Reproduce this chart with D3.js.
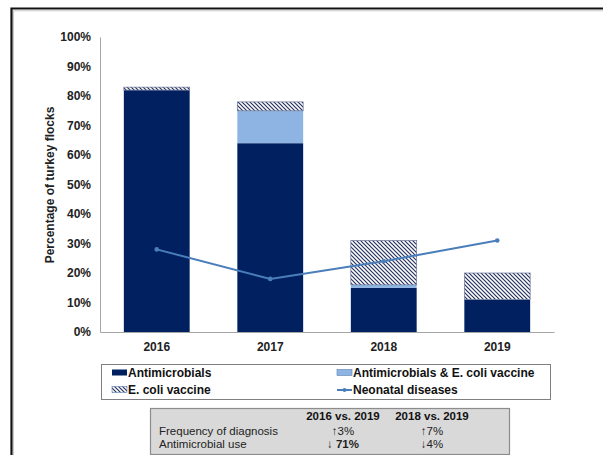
<!DOCTYPE html>
<html>
<head>
<meta charset="utf-8">
<script src="https://cdn.jsdelivr.net/npm/d3@7/dist/d3.min.js"></script>
<style>
  html, body { margin: 0; padding: 0; background: #fff; }
  svg { display: block; font-family: Arial, "Liberation Sans", sans-serif; }
</style>
</head>
<body>
<svg id="chart" width="603" height="455"></svg>
<script>
// Survey years
const years = ["2016", "2017", "2018", "2019"];
// Stacked shares of flocks (%)
const antimicrobials = [82, 64, 15, 11];
const antimicrobialsVaccine = [0, 11, 1, 0];
const ecoliVaccine = [1, 3, 15, 9];
// Neonatal disease diagnoses (%)
const neonatal = [28, 18, 24, 31];
// Y tick values (%)
const yTicks = [0, 10, 20, 30, 40, 50, 60, 70, 80, 90, 100];
// Summary table
const tableHeaders = ["2016 vs. 2019", "2018 vs. 2019"];
const tableRows = [
  { label: "Frequency of diagnosis", arrow: "\u2191", values: ["3%", "7%"], bold: [false, false] },
  { label: "Antimicrobial use", arrow: "\u2193", values: ["71%", "4%"], bold: [true, false] }
];

const navy = "#002060", lightBlue = "#8db4e2", lineBlue = "#4a7ebb";
const svg = d3.select("#chart");

// Hatch pattern for the vaccine-only segment
const defs = svg.append("defs");
const pat = defs.append("pattern")
  .attr("id", "hatch").attr("patternUnits", "userSpaceOnUse")
  .attr("width", 4).attr("height", 4);
pat.append("rect").attr("width", 4).attr("height", 4).attr("fill", "#fff");
pat.append("path").attr("d", "M-1,-1 L5,5 M-1,3 L1,5 M3,-1 L5,1")
  .attr("stroke", "#26315f").attr("stroke-width", 1.2);

// Outer frame
svg.append("path").attr("d", "M11.5,455 L11.5,8.5 L603,8.5")
  .attr("fill", "none").attr("stroke", "#111").attr("stroke-width", 2.2);
svg.append("path").attr("d", "M13.5,455 L13.5,10.8 L603,10.8")
  .attr("fill", "none").attr("stroke", "#bbb").attr("stroke-width", 0.8);

const x = d3.scaleBand().domain(years).range([100, 554])
  .paddingInner(0.42).paddingOuter(0.21);
const y = d3.scaleLinear().domain([0, 100]).range([332, 37]);

// Axes
const yAxis = svg.append("g").attr("transform", "translate(100,0)")
  .call(d3.axisLeft(y).tickValues(yTicks).tickFormat(d => d + "%").tickSize(0).tickPadding(9));
yAxis.select(".domain").attr("stroke", "#a6a6a6");
yAxis.selectAll("text").attr("font-size", 12).attr("font-weight", "bold")
  .attr("fill", "#222").attr("font-family", "Arial, 'Liberation Sans', sans-serif");

// Stack the three segments
const data = years.map((yr, i) => ({
  year: yr, a: antimicrobials[i], av: antimicrobialsVaccine[i], v: ecoliVaccine[i]
}));
const stack = d3.stack().keys(["a", "av", "v"])(data);
const fills = { a: navy, av: lightBlue, v: "url(#hatch)" };

svg.append("g").selectAll("g").data(stack).join("g")
  .attr("fill", d => fills[d.key])
  .selectAll("rect").data(d => d.map(s => ({ s, key: d.key })))
  .join("rect")
  .attr("x", d => x(d.s.data.year))
  .attr("width", x.bandwidth())
  .attr("y", d => y(d.s[1]))
  .attr("height", d => y(d.s[0]) - y(d.s[1]))
  .attr("stroke", d => d.key === "v" ? "#6b7598" : "none")
  .attr("stroke-width", 0.7);

const xAxis = svg.append("g").attr("transform", "translate(0,332)")
  .call(d3.axisBottom(x).tickSize(0).tickPadding(10));
xAxis.select(".domain").attr("stroke", "#a6a6a6");
xAxis.selectAll("text").attr("font-size", 12).attr("font-weight", "bold")
  .attr("fill", "#222").attr("font-family", "Arial, 'Liberation Sans', sans-serif");

// Neonatal diseases line
const line = d3.line().x((d, i) => x(years[i]) + x.bandwidth() / 2).y(d => y(d));
svg.append("path").datum(neonatal).attr("d", line)
  .attr("fill", "none").attr("stroke", lineBlue).attr("stroke-width", 2);
svg.append("g").selectAll("circle").data(neonatal).join("circle")
  .attr("cx", (d, i) => x(years[i]) + x.bandwidth() / 2).attr("cy", d => y(d))
  .attr("r", 2.3).attr("fill", lineBlue);

// Y axis title
svg.append("text").attr("transform", "translate(54,185) rotate(-90)")
  .attr("text-anchor", "middle").attr("font-size", 12).attr("font-weight", "bold")
  .attr("fill", "#222").text("Percentage of turkey flocks");

// Legend
const lg = svg.append("g");
lg.append("rect").attr("x", 101.5).attr("y", 364.5).attr("width", 449).attr("height", 35)
  .attr("fill", "#fff").attr("stroke", "#7f7f7f").attr("stroke-width", 1);
const legendItems = [
  { label: "Antimicrobials", type: "rect", fill: navy, x: 112, y: 373 },
  { label: "Antimicrobials & E. coli vaccine", type: "rect", fill: lightBlue, x: 337, y: 373 },
  { label: "E. coli vaccine", type: "rect", fill: "url(#hatch)", x: 112, y: 390 },
  { label: "Neonatal diseases", type: "line", x: 337, y: 390 }
];
legendItems.forEach(it => {
  if (it.type === "rect") {
    lg.append("rect").attr("x", it.x).attr("y", it.y - 3.5).attr("width", 15).attr("height", 6)
      .attr("fill", it.fill).attr("stroke", it.fill === navy ? "none" : "#5f7fb0").attr("stroke-width", 0.6);
  } else {
    lg.append("line").attr("x1", it.x).attr("x2", it.x + 15).attr("y1", it.y).attr("y2", it.y)
      .attr("stroke", lineBlue).attr("stroke-width", 2);
    lg.append("circle").attr("cx", it.x + 7.5).attr("cy", it.y).attr("r", 2).attr("fill", lineBlue);
  }
  lg.append("text").attr("x", it.x + 16).attr("y", it.y).attr("dy", "0.35em")
    .attr("font-size", 12).attr("font-weight", "bold").attr("fill", "#111").text(it.label);
});

// Summary table
const tb = svg.append("g");
tb.append("rect").attr("x", 150.5).attr("y", 408.5).attr("width", 359).attr("height", 46)
  .attr("fill", "#d9d9d9").attr("stroke", "#8c8c8c").attr("stroke-width", 1.2);
const colX = [343, 432];
tableHeaders.forEach((h, i) => {
  tb.append("text").attr("x", colX[i]).attr("y", 420).attr("text-anchor", "middle")
    .attr("font-size", 11.5).attr("font-weight", "bold").attr("fill", "#111").text(h);
});
tableRows.forEach((r, ri) => {
  const ty = 435 + ri * 13;
  tb.append("text").attr("x", 159).attr("y", ty).attr("font-size", 11.5)
    .attr("fill", "#222").text(r.label);
  r.values.forEach((v, ci) => {
    const t = tb.append("text").attr("x", colX[ci]).attr("y", ty).attr("text-anchor", "middle")
      .attr("font-size", 11.5).attr("fill", "#222");
    t.append("tspan").text(r.arrow + (r.bold[ci] ? " " : ""));
    t.append("tspan").attr("font-weight", r.bold[ci] ? "bold" : "normal").text(v);
  });
});
</script>
</body>
</html>
